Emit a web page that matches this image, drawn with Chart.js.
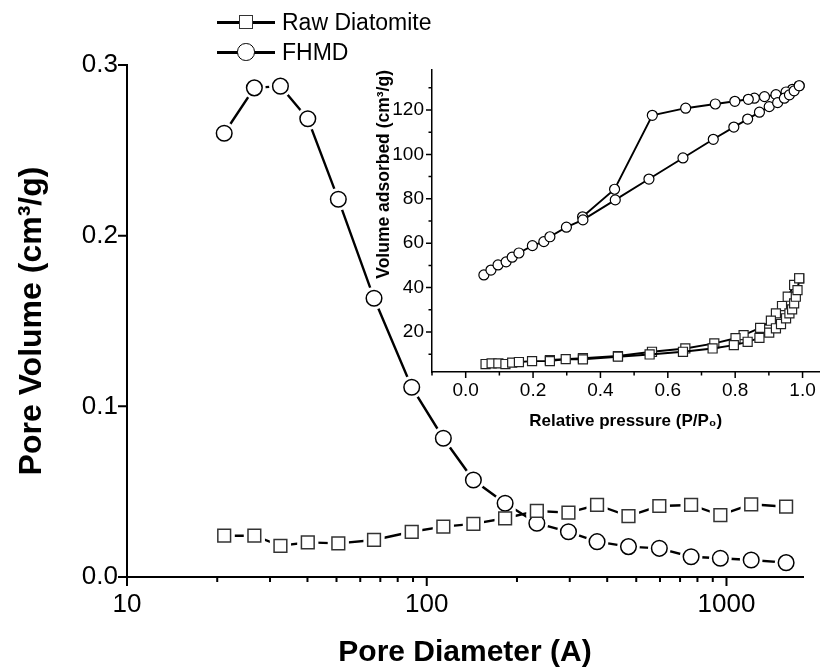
<!DOCTYPE html>
<html>
<head>
<meta charset="utf-8">
<script src="https://cdn.jsdelivr.net/npm/chart.js@4.4.1/dist/chart.umd.min.js"></script>
<style>
  html, body { margin: 0; padding: 0; background: #fff; }
  #wrap { position: relative; width: 827px; height: 672px; overflow: hidden; font-family: 'Liberation Sans', Arial, sans-serif; }
  canvas { position: absolute; left: 0; top: 0; }
  .lg-line { position: absolute; height: 3px; background: #000; }
  .lg-sq { position: absolute; box-sizing: border-box; background: #fff; border: 1.5px solid #333; }
  .lg-ci { position: absolute; box-sizing: border-box; background: #fff; border: 1.5px solid #000; border-radius: 50%; }
  .lg-txt { position: absolute; font-size: 23px; line-height: 26px; color: #000; white-space: nowrap; }
</style>
</head>
<body>
<div id="wrap">
  <canvas id="main" width="827" height="672"></canvas>
  <canvas id="inset" width="827" height="672"></canvas>
  <div id="legend"></div>
</div>
<script>
// ---------- Main chart data (BJH pore size distribution) ----------
const poreDiameter = [21.1, 26.6, 32.5, 40.1, 50.7, 66.7, 89.1, 113.6, 143.1, 182.6, 233, 297, 370, 471, 597, 762, 954, 1209, 1581];
const rawDiatomitePoreVolume = [0.0242, 0.0242, 0.0183, 0.0203, 0.0197, 0.0217, 0.0265, 0.0295, 0.0311, 0.0344, 0.0387, 0.0377, 0.0422, 0.0357, 0.0416, 0.0422, 0.0363, 0.0426, 0.0412];
const fhmdPoreVolume = [0.260, 0.2866, 0.2876, 0.2685, 0.2213, 0.1633, 0.1112, 0.0813, 0.0568, 0.0432, 0.0315, 0.0265, 0.0207, 0.0178, 0.0168, 0.0119, 0.0110, 0.0100, 0.0084];
const mainXTickLabels = [10, 100, 1000];
const seriesNames = ['Raw Diatomite', 'FHMD'];

// ---------- Inset data (N2 isotherms) ----------
const fhmdAdsP = [0.054, 0.075, 0.096, 0.120, 0.138, 0.158, 0.198, 0.232, 0.250, 0.299, 0.348, 0.444, 0.544, 0.645, 0.735, 0.796, 0.837, 0.872, 0.901, 0.926, 0.946, 0.961, 0.975, 0.990];
const fhmdAdsV = [45.7, 47.9, 50.2, 51.6, 53.7, 55.6, 58.9, 60.7, 62.9, 67.2, 70.5, 79.5, 88.9, 98.4, 106.8, 112.3, 115.9, 119.0, 121.5, 123.3, 125.3, 126.8, 128.6, 130.9];
const fhmdDesP = [0.990, 0.970, 0.951, 0.921, 0.887, 0.857, 0.839, 0.799, 0.741, 0.653, 0.554, 0.442, 0.347];
const fhmdDesV = [130.9, 129.3, 128.1, 126.9, 126.0, 125.3, 124.8, 123.9, 122.7, 120.8, 117.6, 84.3, 71.9];
const rawAdsP = [0.059, 0.077, 0.097, 0.118, 0.138, 0.158, 0.197, 0.250, 0.297, 0.348, 0.452, 0.546, 0.645, 0.733, 0.796, 0.837, 0.872, 0.901, 0.921, 0.936, 0.951, 0.961, 0.969, 0.975, 0.980, 0.985, 0.990];
const rawAdsV = [5.6, 5.9, 5.9, 5.6, 6.2, 6.5, 6.9, 6.9, 7.8, 7.7, 8.9, 9.9, 11.1, 12.6, 14.1, 15.6, 17.4, 19.7, 21.7, 23.6, 26.2, 28.4, 30.2, 32.9, 35.9, 38.9, 44.2];
const rawDesP = [0.990, 0.975, 0.956, 0.939, 0.921, 0.906, 0.874, 0.825, 0.801, 0.738, 0.652, 0.553, 0.452, 0.348, 0.250];
const rawDesV = [44.2, 41.2, 35.9, 31.7, 28.4, 25.1, 21.9, 18.6, 17.2, 14.9, 12.6, 11.1, 9.2, 8.2, 7.4];

// ---------- helpers ----------
const FONT = "'Liberation Sans', Arial, Helvetica, sans-serif";
Chart.defaults.font.family = FONT;
Chart.defaults.color = '#000';
const toXY = (xs, ys) => xs.map((x, i) => ({ x: x, y: ys[i] }));

function tickPlugin(spec) {
  return {
    id: 'tickMarks',
    afterDraw(chart) {
      const ctx = chart.ctx;
      const area = chart.chartArea;
      ctx.save();
      ctx.strokeStyle = '#000';
      ctx.lineCap = 'butt';
      Object.keys(spec).forEach(function (id) {
        const conf = spec[id];
        const s = chart.scales[id];
        ctx.lineWidth = conf.width;
        ctx.beginPath();
        s.ticks.forEach(function (t) {
          const kind = conf.kind(t.value);
          if (!kind) return;
          const len = kind === 'major' ? conf.major : conf.minor;
          const p = s.getPixelForValue(t.value);
          if (s.isHorizontal()) {
            if (p < area.left - 1 || p > area.right + 1) return;
            ctx.moveTo(p, area.bottom); ctx.lineTo(p, area.bottom + len);
          } else {
            if (p < area.top - 1 || p > area.bottom + 1) return;
            ctx.moveTo(area.left, p); ctx.lineTo(area.left - len, p);
          }
        });
        ctx.stroke();
      });
      ctx.restore();
    }
  };
}

function logKind(v) {
  const e = Math.pow(10, Math.floor(Math.log10(v) + 1e-9));
  const m = v / e;
  if (Math.abs(m - 1) < 1e-6) return 'major';
  if (Math.abs(m - Math.round(m)) < 1e-6 && m >= 2 && m <= 9) return 'minor';
  return null;
}

// ---------- Main chart ----------
const rawXY = toXY(poreDiameter, rawDiatomitePoreVolume);
const fhmdXY = toXY(poreDiameter, fhmdPoreVolume);

new Chart(document.getElementById('main'), {
  type: 'line',
  data: {
    datasets: [
      { label: seriesNames[0] + ' line', data: rawXY, order: 3, borderColor: '#000', borderWidth: 2.4, pointRadius: 0, tension: 0, fill: false },
      { label: seriesNames[1] + ' line', data: fhmdXY, order: 3, borderColor: '#000', borderWidth: 2.4, pointRadius: 0, tension: 0, fill: false },
      { label: 'gap1', data: rawXY, order: 2, showLine: false, pointStyle: 'rect', pointRadius: 15, pointBackgroundColor: '#fff', pointBorderWidth: 0, pointBorderColor: '#fff' },
      { label: 'gap2', data: fhmdXY, order: 2, showLine: false, pointStyle: 'circle', pointRadius: 11.3, pointBackgroundColor: '#fff', pointBorderWidth: 0, pointBorderColor: '#fff' },
      { label: seriesNames[0], data: rawXY, order: 1, showLine: false, pointStyle: 'rect', pointRadius: 9.0, pointBackgroundColor: '#fff', pointBorderColor: '#333', pointBorderWidth: 1.5 },
      { label: seriesNames[1], data: fhmdXY, order: 1, showLine: false, pointStyle: 'circle', pointRadius: 7.8, pointBackgroundColor: '#fff', pointBorderColor: '#000', pointBorderWidth: 1.5 }
    ]
  },
  options: {
    responsive: false,
    animation: false,
    events: [],
    layout: { padding: { left: 13, top: 65, right: 24, bottom: 0 } },
    plugins: { legend: { display: false }, tooltip: { enabled: false } },
    scales: {
      x: {
        type: 'logarithmic',
        min: 10,
        max: 1800,
        grid: { display: true, drawOnChartArea: false, drawTicks: false },
        border: { display: true, color: '#000', width: 2 },
        ticks: {
          autoSkip: false, maxRotation: 0, padding: 12,
          font: { size: 26 },
          callback: function (v) { return mainXTickLabels.indexOf(v) >= 0 ? String(v) : ''; }
        },
        title: { display: true, text: 'Pore Diameter (A)', font: { size: 30, weight: 'bold' }, padding: { top: 0, bottom: 1 } },
        afterFit: function (s) { s.height = 95; }
      },
      y: {
        type: 'linear',
        min: 0,
        max: 0.3,
        grid: { display: true, drawOnChartArea: false, drawTicks: false },
        border: { display: true, color: '#000', width: 2 },
        ticks: {
          stepSize: 0.1, padding: 9,
          font: { size: 26 },
          callback: function (v) { return Number(v).toFixed(1); }
        },
        title: { display: true, text: 'Pore Volume (cm³/g)', font: { size: 32, weight: 'bold' }, padding: { top: 0, bottom: 0 } },
        afterFit: function (s) { s.width = 114; }
      }
    }
  },
  plugins: [tickPlugin({
    x: { width: 2, major: 9, minor: 5, kind: logKind },
    y: { width: 2, major: 9, minor: 5, kind: function () { return 'major'; } }
  })]
});

// ---------- Inset chart ----------
new Chart(document.getElementById('inset'), {
  type: 'line',
  data: {
    datasets: [
      { label: 'FHMD adsorption', data: toXY(fhmdAdsP, fhmdAdsV), borderColor: '#000', borderWidth: 1.9, tension: 0, pointStyle: 'circle', pointRadius: 5, pointBackgroundColor: '#fff', pointBorderColor: '#000', pointBorderWidth: 1.2 },
      { label: 'FHMD desorption', data: toXY(fhmdDesP, fhmdDesV), borderColor: '#000', borderWidth: 1.9, tension: 0, pointStyle: 'circle', pointRadius: 5, pointBackgroundColor: '#fff', pointBorderColor: '#000', pointBorderWidth: 1.2 },
      { label: 'Raw Diatomite adsorption', data: toXY(rawAdsP, rawAdsV), borderColor: '#000', borderWidth: 1.9, tension: 0, pointStyle: 'rect', pointRadius: 6.4, pointBackgroundColor: '#fff', pointBorderColor: '#222', pointBorderWidth: 1.2 },
      { label: 'Raw Diatomite desorption', data: toXY(rawDesP, rawDesV), borderColor: '#000', borderWidth: 1.9, tension: 0, pointStyle: 'rect', pointRadius: 6.4, pointBackgroundColor: '#fff', pointBorderColor: '#222', pointBorderWidth: 1.2 }
    ]
  },
  options: {
    responsive: false,
    animation: false,
    events: [],
    layout: { padding: { left: 374, top: 70, right: 7, bottom: 240 } },
    plugins: { legend: { display: false }, tooltip: { enabled: false } },
    scales: {
      x: {
        type: 'linear',
        min: -0.1,
        max: 1.05,
        grid: { display: true, drawOnChartArea: false, drawTicks: false },
        border: { display: true, color: '#000', width: 1.5 },
        ticks: {
          stepSize: 0.1, includeBounds: false, autoSkip: false, maxRotation: 0, padding: 7,
          font: { size: 19 },
          callback: function (v) { const k = Math.round(v * 10); return (k >= 0 && k % 2 === 0) ? (k / 10).toFixed(1) : ''; }
        },
        title: { display: true, text: 'Relative pressure (P/P₀)', font: { size: 17, weight: 'bold' }, padding: { top: 0, bottom: 0 } },
        afterFit: function (s) { s.height = 60; }
      },
      y: {
        type: 'linear',
        min: 2,
        max: 138,
        grid: { display: true, drawOnChartArea: false, drawTicks: false },
        border: { display: true, color: '#000', width: 1.5 },
        ticks: {
          stepSize: 10, includeBounds: false, autoSkip: false, padding: 8,
          font: { size: 19 },
          callback: function (v) { const k = Math.round(v); return k % 20 === 0 ? String(k) : ''; }
        },
        title: { display: true, text: 'Volume adsorbed (cm³/g)', align: 'end', font: { size: 17.5, weight: 'bold' }, padding: { top: 0, bottom: 0 } },
        afterFit: function (s) { s.width = 58; }
      }
    }
  },
  plugins: [tickPlugin({
    x: { width: 1.5, major: 6, minor: 3.5, kind: function (v) { return Math.round(v * 10) % 2 === 0 ? 'major' : 'minor'; } },
    y: { width: 1.5, major: 6, minor: 3.5, kind: function (v) { return Math.round(v) % 20 === 0 ? 'major' : 'minor'; } }
  })]
});

// ---------- Legend (HTML text) ----------
(function () {
  const lg = document.getElementById('legend');
  const rows = [
    { name: seriesNames[0], cy: 22, marker: 'lg-sq', size: 14 },
    { name: seriesNames[1], cy: 52, marker: 'lg-ci', size: 17.5 }
  ];
  rows.forEach(function (r) {
    const ln = document.createElement('div');
    ln.className = 'lg-line';
    ln.style.left = '217px'; ln.style.width = '58px'; ln.style.top = (r.cy - 1.5) + 'px';
    lg.appendChild(ln);
    const mk = document.createElement('div');
    mk.className = r.marker;
    mk.style.width = r.size + 'px'; mk.style.height = r.size + 'px';
    mk.style.left = (246 - r.size / 2) + 'px'; mk.style.top = (r.cy - r.size / 2) + 'px';
    lg.appendChild(mk);
    const tx = document.createElement('div');
    tx.className = 'lg-txt';
    tx.textContent = r.name;
    tx.style.left = '282px'; tx.style.top = (r.cy - 13) + 'px';
    lg.appendChild(tx);
  });
})();
</script>
</body>
</html>
